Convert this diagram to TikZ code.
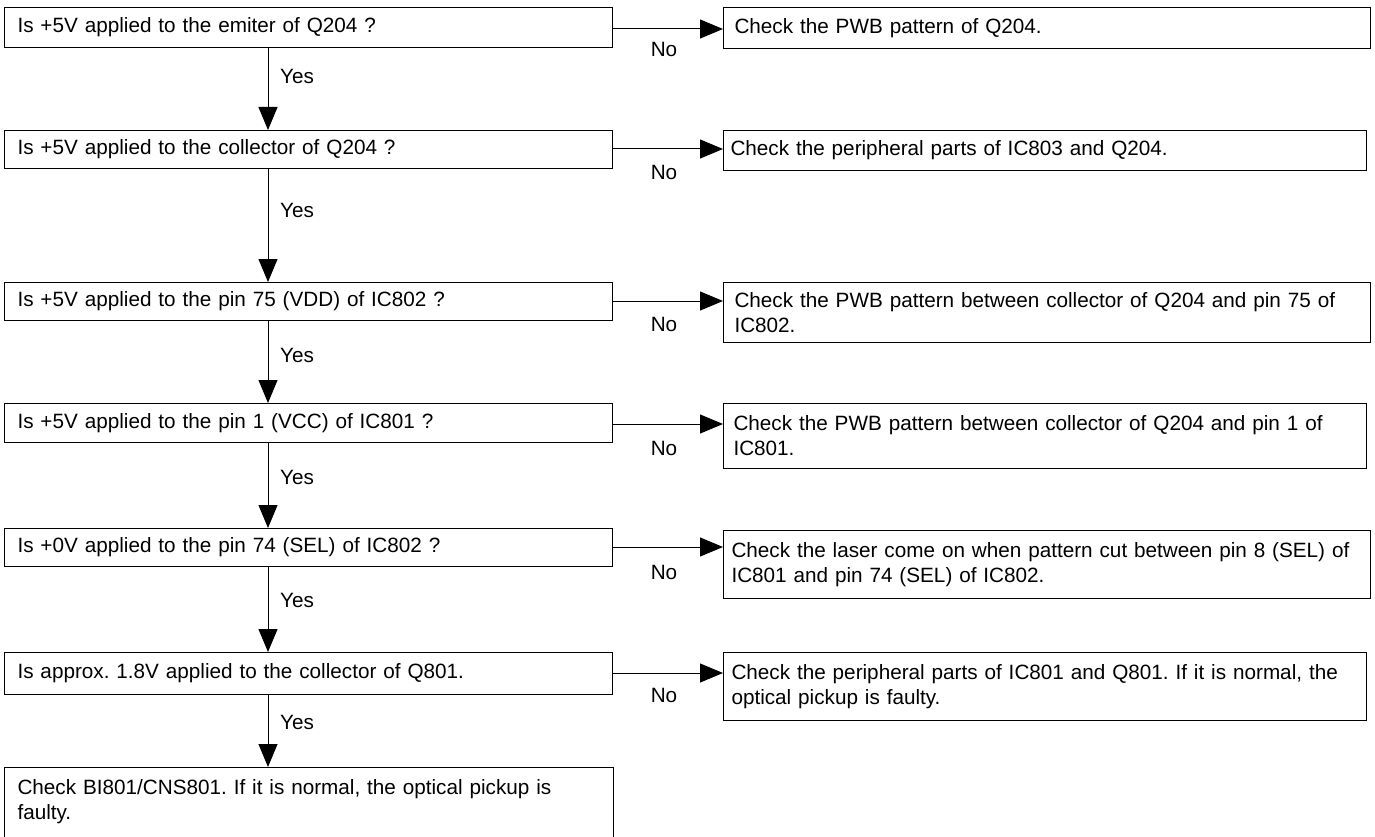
\documentclass[tikz,border=0pt]{standalone}
\usepackage{fontspec}
\setmainfont{Liberation Sans}
\usetikzlibrary{arrows.meta}
\frenchspacing
\tikzset{
  box/.style={draw, line width=1pt, inner ysep=0pt, anchor=north west, align=left, font=\fontsize{20.7}{25}\selectfont},
  lbox/.style={box, inner xsep=13pt, text width=582pt, minimum width=608pt},
  rbox/.style={box, inner xsep=11pt, text width=625pt, minimum width=647pt},
  arr/.style={line width=1pt, -{Triangle[length=23pt,width=19pt]}},
  lab/.style={inner sep=0pt, font=\fontsize{20.7}{25}\selectfont},
}
\begin{document}
\begin{tikzpicture}[x=1pt,y=-1pt]
\useasboundingbox (0,0) rectangle (1375,837);
\clip (0,0) rectangle (1375,837);
% left column
\node[lbox, minimum height=40pt] (L1) at (4,7) {Is +5V applied to the emiter of Q204 ?};
\node[lbox, minimum height=38pt] (L2) at (4,130) {Is +5V applied to the collector of Q204 ?};
\node[lbox, minimum height=38pt] (L3) at (4,282) {Is +5V applied to the pin 75 (VDD) of IC802 ?};
\node[lbox, minimum height=39pt] (L4) at (4,403) {Is +5V applied to the pin 1 (VCC) of IC801 ?};
\node[lbox, minimum height=38pt] (L5) at (4,528) {Is +0V applied to the pin 74 (SEL) of IC802 ?};
\node[lbox, minimum height=42pt] (L6) at (4,652) {Is approx. 1.8V applied to the collector of Q801.};
\node[lbox, draw=none, minimum height=68pt] (L7) at (4,767) {Check BI801/CNS801. If it is normal, the optical pickup is\\faulty.};
\draw[line width=1pt] ([yshift=-20pt]L7.south west) |- (L7.north east) -- ([yshift=-20pt]L7.south east);
% right column
\node[rbox, minimum height=41pt] (R1) at (723,7) {Check the PWB pattern of Q204.};
\node[rbox, inner xsep=7pt, text width=629pt, minimum width=643pt, minimum height=40pt] (R2) at (723,130) {Check the peripheral parts of IC803 and Q204.};
\node[rbox, minimum height=60pt] (R3) at (723,282) {Check the PWB pattern between collector of Q204 and pin 75 of\\IC802.};
\node[rbox, inner xsep=10pt, text width=623pt, minimum width=643pt, minimum height=65pt] (R4) at (723,403) {Check the PWB pattern between collector of Q204 and pin 1 of\\IC801.};
\node[rbox, inner xsep=8pt, text width=631pt, minimum height=68pt] (R5) at (723,530) {Check the laser come on when pattern cut between pin 8 (SEL) of\\IC801 and pin 74 (SEL) of IC802.};
\node[rbox, inner xsep=8pt, text width=627pt, minimum width=643pt, minimum height=68pt] (R6) at (723,652) {Check the peripheral parts of IC801 and Q801. If it is normal, the\\optical pickup is faulty.};
% No arrows
\foreach \i/\y in {1/29,2/149,3/301,4/424,5/547,6/673}{
  \coordinate (h\i) at (0,\y);
  \draw[arr] (L\i.east |- h\i) -- (R\i.west |- h\i);
}
% Yes arrows
\coordinate (ax) at (268,0);
\foreach \i/\j in {1/2,2/3,3/4,4/5,5/6,6/7}{
  \draw[arr] (L\i.south -| ax) -- (L\j.north -| ax);
}
% labels
\foreach \i/\y in {1/49,2/172,3/324,4/448,5/572,6/695}{
  \node[lab] (n\i) at (664,\y) {No};
}
\foreach \i/\y in {1/76,2/210,3/355,4/477,5/600,6/722}{
  \node[lab, anchor=west] (y\i) at (280,\y) {Yes};
}
\end{tikzpicture}
\end{document}
